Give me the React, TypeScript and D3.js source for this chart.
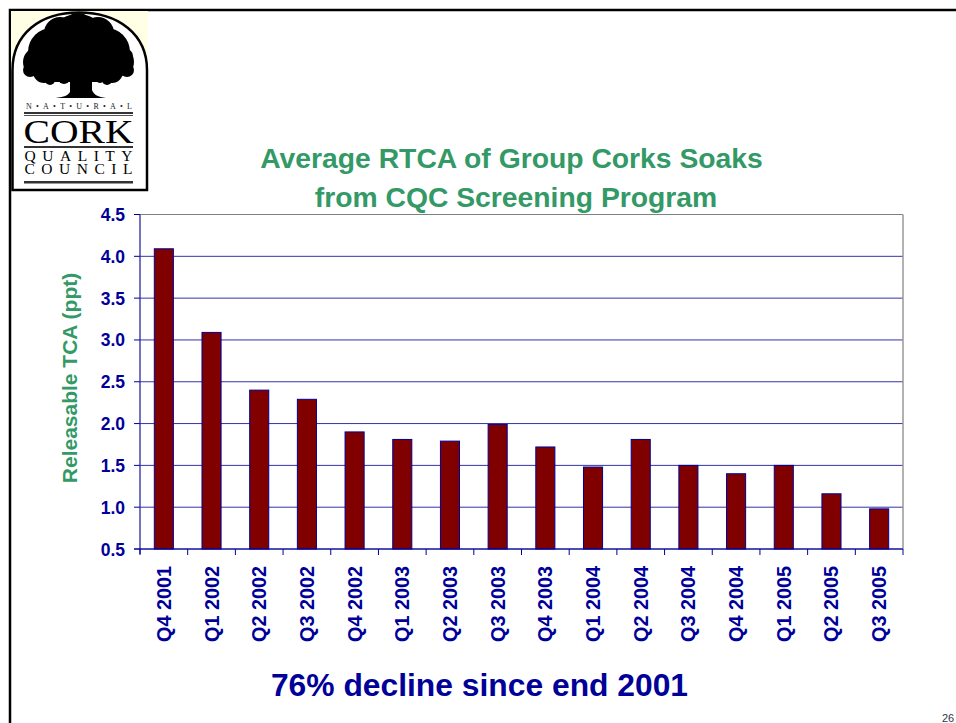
import React from "react";
import * as d3 from "d3";

const categories = ["Q4 2001","Q1 2002","Q2 2002","Q3 2002","Q4 2002","Q1 2003","Q2 2003","Q3 2003","Q4 2003","Q1 2004","Q2 2004","Q3 2004","Q4 2004","Q1 2005","Q2 2005","Q3 2005"];
const values = [4.09,3.09,2.4,2.29,1.9,1.81,1.79,1.99,1.72,1.48,1.81,1.5,1.4,1.5,1.16,0.98];
const yTicks = [0.5,1,1.5,2,2.5,3,3.5,4,4.5];
const titleLines = ["Average RTCA of Group Corks Soaks","from CQC Screening Program"];
const yAxisTitle = "Releasable TCA (ppt)";
const caption = "76% decline since end 2001";
const pageNumber = "26";
const canopy: [number,number,number][] = [[78,46,32],[52,52,24],[106,52,24],[38,62,15],[120,62,14],[60,33,16],[98,33,16],[78,28,15],[44,72,11],[112,72,11],[30,70,7],[127,70,7],[80,60,22],[60,66,14],[98,66,14],[32,58,6],[126,56,7],[42,40,8],[116,40,8],[50,80,5],[107,80,5],[64,78,6],[100,78,5]];

const NAVY = "#000099";
const GREEN = "#339966";
const FONT = "'Liberation Sans', Arial, sans-serif";

function Logo() {
  const arch = "M12.5 190 V70 C12.5 34 40 12.5 79 12.5 C118 12.5 147 34 147 70 V190 Z";
  return (
    <g>
      <rect x={11} y={11} width={137} height={60} fill="#FFFFE6" />
      <path d={arch} fill="#fff" stroke="#000" strokeWidth={2.5} />
      {canopy.map(([cx,cy,r],i) => <circle key={i} cx={cx} cy={cy} r={r} fill="#000" />)}
      <path d="M70 72 L70 92 C68 96 62 97 56 98 H68 H106 C98 97 94 95 92 90 L92 72 Z" fill="#000" />
      <path d="M70 82 H50 L58 76 H70 Z M92 82 H112 L102 76 H92 Z" fill="#000" />
      <text x={79} y={109} textAnchor="middle" fontFamily="'Liberation Serif', serif" fontSize={8} textLength={106} lengthAdjust="spacing" fill="#222">N•A•T•U•R•A•L</text>
      <rect x={24} y={112} width={109} height={2} fill="#333" />
      <rect x={24} y={115} width={109} height={1} fill="#555" />
      <text x={78.5} y={143} textAnchor="middle" fontFamily="'Liberation Serif', serif" fontSize={33} textLength={110} lengthAdjust="spacingAndGlyphs" fill="#000">CORK</text>
      <rect x={24} y={146} width={109} height={2} fill="#333" />
      <text x={78.5} y={161} textAnchor="middle" fontFamily="'Liberation Serif', serif" fontSize={15.5} textLength={108} lengthAdjust="spacing" fill="#000">QUALITY</text>
      <text x={78.5} y={174} textAnchor="middle" fontFamily="'Liberation Serif', serif" fontSize={15.5} textLength={108} lengthAdjust="spacing" fill="#000">COUNCIL</text>
      <rect x={24} y={181} width={109} height={2.5} fill="#333" />
    </g>
  );
}

export default function App() {
  const left = 140, right = 903, top = 214.5, bottom = 549;
  const x = d3.scaleBand<string>().domain(categories).range([left, right]).paddingInner(0.6).paddingOuter(0.3);
  const band = d3.scaleBand<string>().domain(categories).range([left, right]);
  const y = d3.scaleLinear().domain([0.5, 4.5]).range([bottom, top]);
  return (
    <svg width={956} height={723} style={{ position: "absolute", left: 0, top: 0, background: "#fff" }} fontFamily={FONT}>
      <path d="M10 723 V10 H956" fill="none" stroke="#000" strokeWidth={2.5} />
      <Logo />
      {titleLines.map((t, i) => (
        <text key={t} x={i === 0 ? 511.5 : 516} y={168 + i * 39} textAnchor="middle" fontSize={28.3} fontWeight="bold" fill={GREEN}>{t}</text>
      ))}
      <text transform="translate(77,378) rotate(-90)" textAnchor="middle" fontSize={21} fontWeight="bold" fill={GREEN}>{yAxisTitle}</text>

      {yTicks.map(t => (
        <line key={t} x1={left} x2={right} y1={y(t)} y2={y(t)} stroke={t === 4.5 ? "#808080" : "#3333AA"} strokeWidth={1} />
      ))}
      <line x1={right} x2={right} y1={top} y2={bottom} stroke="#999" strokeWidth={1.5} />
      {categories.map((c, i) => (
        <rect key={c} x={x(c)} y={y(values[i])} width={x.bandwidth()} height={bottom - y(values[i])} fill="#800000" stroke={NAVY} strokeWidth={1} />
      ))}
      <line x1={left} x2={left} y1={top} y2={bottom + 5} stroke="#4444AA" strokeWidth={1.5} />
      <line x1={left - 6} x2={right} y1={bottom} y2={bottom} stroke={NAVY} strokeWidth={1} />
      {yTicks.map(t => (
        <g key={t}>
          <line x1={left - 6} x2={left} y1={y(t)} y2={y(t)} stroke={NAVY} />
          <text x={125} y={y(t) + 6.5} textAnchor="end" fontSize={17.5} fontWeight="bold" fill={NAVY}>{t.toFixed(1)}</text>
        </g>
      ))}
      {[...categories, ""].map((c, i) => {
        const px = left + i * band.step();
        return <line key={i} x1={px} x2={px} y1={bottom} y2={bottom + 6} stroke={NAVY} />;
      })}
      {categories.map(c => {
        const cx = (band(c) as number) + band.step() / 2;
        return (
          <text key={c} transform={`translate(${cx + 7},566) rotate(-90)`} textAnchor="end" fontSize={19.8} fontWeight="bold" fill={NAVY}>{c}</text>
        );
      })}
      <text x={479.5} y={696} textAnchor="middle" fontSize={31.8} fontWeight="bold" fill={NAVY}>{caption}</text>
      <text x={942} y={722} fontSize={11} fill="#334">{pageNumber}</text>
    </svg>
  );
}
